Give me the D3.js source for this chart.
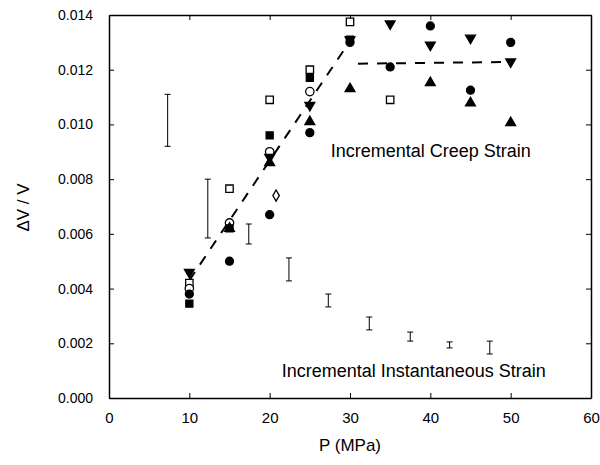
<!DOCTYPE html>
<html>
<head>
<meta charset="utf-8">
<script src="https://cdn.jsdelivr.net/npm/d3@7"></script>
<style>
  body { margin: 0; background: #fff; }
  svg { font-family: "Liberation Sans", Arial, sans-serif; }
</style>
</head>
<body>
<div id="chart"></div>
<script>
// data
const filledCircle = [[10,0.0038],[15,0.0050],[20,0.0067],[25,0.0097],[30,0.0130],[35,0.0121],[40,0.0136],[45,0.01125],[50,0.0130]];
const downTri = [[10,0.0046],[20,0.0088],[25,0.0107],[30,0.0131],[35,0.01368],[40,0.0129],[45,0.01316],[50,0.01229]];
const upTri = [[15,0.0062],[20,0.0086],[25,0.0101],[30,0.0113],[40,0.01152],[45,0.01078],[50,0.01006]];
const filledSquare = [[10,0.00345],[15,0.0062],[20,0.0096],[25,0.0117],[30,0.0131]];
const openSquare = [[10,0.0042],[15,0.00765],[20,0.0109],[25,0.0120],[30,0.01375],[35,0.0109]];
const openCircle = [[10,0.0040],[15,0.0064],[20,0.0090],[25,0.0112]];
const openDiamond = [[20.8,0.0074]];

// instantaneous strain ranges [P, low, high]
const instRanges = [[7.3,0.0092,0.0111],[12.3,0.00585,0.0080],[17.4,0.00563,0.00636],[22.4,0.00428,0.00512],
  [27.3,0.00333,0.0038],[32.4,0.00249,0.00296],[37.5,0.00208,0.00241],[42.4,0.00183,0.00205],[47.4,0.00161,0.00208]];

// dashed fit lines
const fitRise = [[10,0.0043],[30,0.01305]];
const fitFlat = [[31,0.01222],[49,0.01228]];

const xTicks = [0,10,20,30,40,50,60];
const yTicks = [0,0.002,0.004,0.006,0.008,0.010,0.012,0.014];

const margin = {top: 15, right: 9, bottom: 67, left: 109},
  width = 600 - margin.left - margin.right,
  height = 465 - margin.top - margin.bottom;

const svg = d3.select("#chart").append("svg")
  .attr("width", 600).attr("height", 465)
  .append("g")
  .attr("transform", `translate(${margin.left},${margin.top})`);

const x = d3.scaleLinear().domain([0, 60]).range([0, width]);
const y = d3.scaleLinear().domain([0, 0.014]).range([height, 0]);

// axes, ticks pointing inward
svg.append("g").attr("transform", `translate(0,${height})`)
  .call(d3.axisBottom(x).tickValues(xTicks).tickSizeInner(-5).tickSizeOuter(0).tickPadding(14).tickFormat(d3.format("d")))
  .call(g => g.selectAll("text").attr("font-size", 15));
svg.append("g")
  .call(d3.axisLeft(y).tickValues(yTicks).tickSizeInner(-5).tickSizeOuter(0).tickPadding(16).tickFormat(d3.format(".3f")))
  .call(g => g.selectAll("text").attr("font-size", 14));
svg.append("g")
  .call(d3.axisTop(x).tickValues(xTicks).tickSizeInner(-5).tickSizeOuter(0).tickFormat(""));
svg.append("g").attr("transform", `translate(${width},0)`)
  .call(d3.axisRight(y).tickValues(yTicks).tickSizeInner(-5).tickSizeOuter(0).tickFormat(""));
svg.selectAll(".domain").attr("stroke", "#000").attr("stroke-width", 1.5);
svg.selectAll(".tick line").attr("stroke", "#000");
svg.selectAll(".tick text").attr("fill", "#000");

// axis titles
svg.append("text").attr("x", width / 2).attr("y", height + 53)
  .attr("text-anchor", "middle").attr("font-size", 17).text("P (MPa)");
svg.append("text").attr("transform", `translate(${-80},${height / 2 + 1}) rotate(-90)`)
  .attr("text-anchor", "middle").attr("font-size", 17).text("\u0394V / V");

// dashed fits
const line = d3.line().x(d => x(d[0])).y(d => y(d[1]));
[fitRise, fitFlat].forEach(f => {
  svg.append("path").datum(f).attr("d", line)
    .attr("fill", "none").attr("stroke", "#000").attr("stroke-width", 2)
    .attr("stroke-dasharray", "10,9");
});

// instantaneous strain bars
const bars = svg.append("g").attr("stroke", "#000").attr("stroke-width", 1);
instRanges.forEach(r => {
  const cx = x(r[0]);
  bars.append("line").attr("x1", cx).attr("x2", cx).attr("y1", y(r[1])).attr("y2", y(r[2]));
  bars.append("line").attr("x1", cx - 3).attr("x2", cx + 3).attr("y1", y(r[1])).attr("y2", y(r[1]));
  bars.append("line").attr("x1", cx - 3).attr("x2", cx + 3).attr("y1", y(r[2])).attr("y2", y(r[2]));
});

// markers
function drawSeries(data, type, size, filled) {
  svg.append("g").selectAll("path").data(data).join("path")
    .attr("transform", d => `translate(${x(d[0])},${y(d[1])})` + (type === "down" ? " rotate(180)" : ""))
    .attr("d", d3.symbol().type(type === "down" || type === "up" ? d3.symbolTriangle : type).size(size))
    .attr("fill", filled ? "#000" : "#fff")
    .attr("stroke", "#000").attr("stroke-width", 1.3);
}
drawSeries(openSquare, d3.symbolSquare, 55, false);
drawSeries(openCircle, d3.symbolCircle, 55, false);
drawSeries(openDiamond, d3.symbolDiamond, 36, false);
drawSeries(filledSquare, d3.symbolSquare, 50, true);
drawSeries(upTri, "up", 42, true);
drawSeries(downTri, "down", 42, true);
drawSeries(filledCircle, d3.symbolCircle, 50, true);

// annotations
svg.append("text").attr("x", x(27.6)).attr("y", y(0.0088))
  .attr("font-size", 18).text("Incremental Creep Strain");
svg.append("text").attr("x", x(21.5)).attr("y", y(0.00077))
  .attr("font-size", 18).text("Incremental Instantaneous Strain");
</script>
</body>
</html>
